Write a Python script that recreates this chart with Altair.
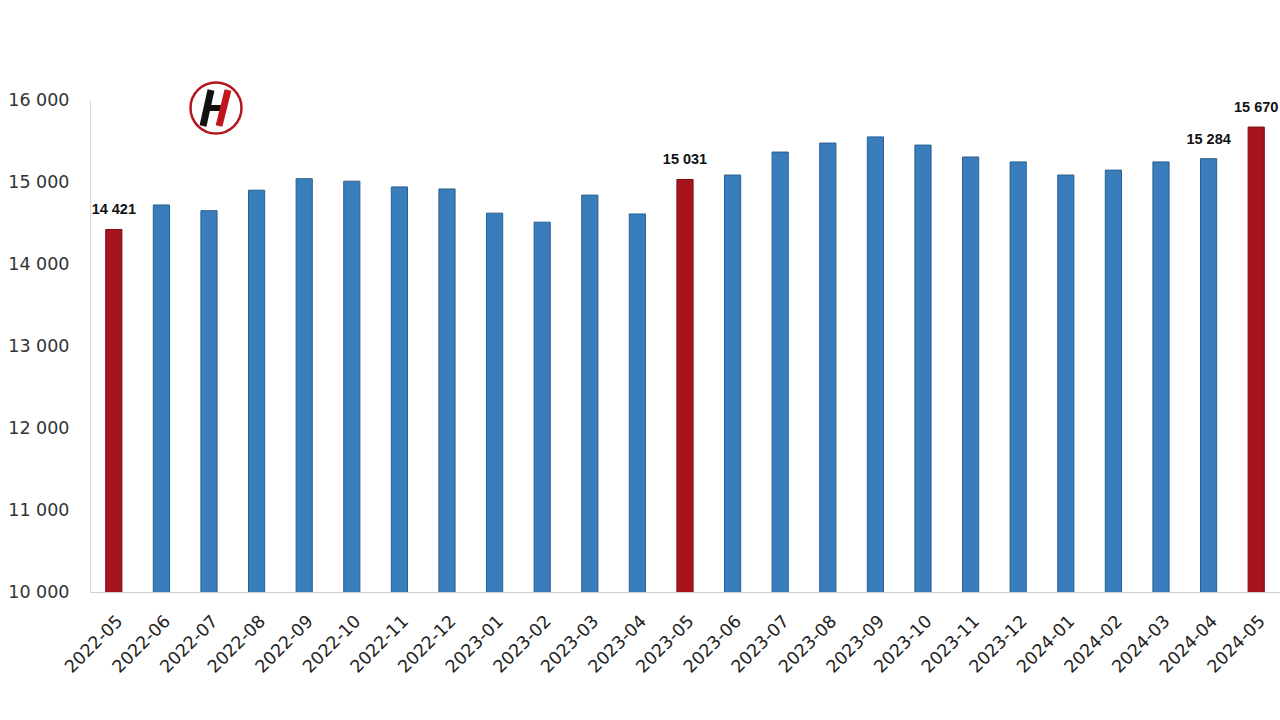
import altair as alt
import pandas as pd

months = ["2022-05", "2022-06", "2022-07", "2022-08", "2022-09", "2022-10", "2022-11",
          "2022-12", "2023-01", "2023-02", "2023-03", "2023-04", "2023-05", "2023-06",
          "2023-07", "2023-08", "2023-09", "2023-10", "2023-11", "2023-12", "2024-01",
          "2024-02", "2024-03", "2024-04", "2024-05"]
values = [14421, 14720, 14650, 14900, 15040, 15010, 14940, 14915, 14620, 14510, 14840,
          14610, 15031, 15085, 15365, 15475, 15550, 15450, 15305, 15245, 15085, 15145,
          15245, 15284, 15670]
highlight = ["2022-05", "2023-05", "2024-05"]
labelled = ["2022-05", "2023-05", "2024-04", "2024-05"]
y_ticks = [10000, 11000, 12000, 13000, 14000, 15000, 16000]

df = pd.DataFrame({"month": months, "value": values})
df["group"] = ["red" if m in highlight else "blue" for m in months]
df["label"] = [f"{v:,}".replace(",", " ") if m in labelled else "" for m, v in zip(months, values)]
logo_df = pd.DataFrame({"logo": ["H"]})

x = alt.X("month:N", sort=months, title=None,
          scale=alt.Scale(paddingInner=0.66, paddingOuter=0.33),
          axis=alt.Axis(labelAngle=-45, labelFontSize=17.5, labelColor="#222",
                        labelFont="DejaVu Sans", ticks=False, domainColor="#d0d0d0",
                        labelPadding=20))
y = alt.Y("value:Q", title=None,
          scale=alt.Scale(domain=[10000, 16000], nice=False),
          axis=alt.Axis(values=y_ticks, grid=False, ticks=False, domainColor="#d8d8d8",
                        labelFontSize=17.5, labelColor="#333", labelFont="DejaVu Sans",
                        labelPadding=21,
                        labelExpr="replace(format(datum.value, ','), ',', ' ')"))

bars = alt.Chart(df).mark_bar(strokeWidth=1, clip=True).encode(
    x=x, y=y,
    color=alt.Color("group:N", scale=alt.Scale(domain=["blue", "red"],
                                               range=["#3a7dbd", "#a8141d"]), legend=None),
    stroke=alt.Stroke("group:N", scale=alt.Scale(domain=["blue", "red"],
                                                 range=["#2b5f8e", "#7a0e14"]), legend=None),
)

texts = alt.Chart(df).mark_text(baseline="bottom", dy=-12, fontSize=14.5, fontWeight="bold",
                                font="Liberation Sans", color="#111").encode(
    x=alt.X("month:N", sort=months), y="value:Q", text="label:N")

# decorative logo (red ring with a slanted black/red "H")
logo_ring = alt.Chart(logo_df).mark_point(shape="circle", size=2600, strokeWidth=2.5,
                                          color="#b5161d", filled=False, opacity=1).encode(
    x=alt.value(126), y=alt.value(8))
logo_l = alt.Chart(logo_df).mark_rule(strokeWidth=7, color="#111").encode(
    x=alt.value(113), x2=alt.value(121), y=alt.value(26), y2=alt.value(-10))
logo_m = alt.Chart(logo_df).mark_rule(strokeWidth=6, color="#111").encode(
    x=alt.value(116), x2=alt.value(131), y=alt.value(8), y2=alt.value(8))
logo_r = alt.Chart(logo_df).mark_rule(strokeWidth=7, color="#c0151c").encode(
    x=alt.value(129), x2=alt.value(138), y=alt.value(26), y2=alt.value(-10))

chart = alt.layer(bars, texts, logo_ring, logo_l, logo_m, logo_r).properties(
    width=1190, height=492,
    autosize=alt.AutoSizeParams(type="none"),
    padding={"left": 90, "top": 100, "right": 0, "bottom": 128},
    background="white",
).configure_view(stroke=None)

chart.save("out.html", embed_options={"renderer": "svg", "actions": False})
